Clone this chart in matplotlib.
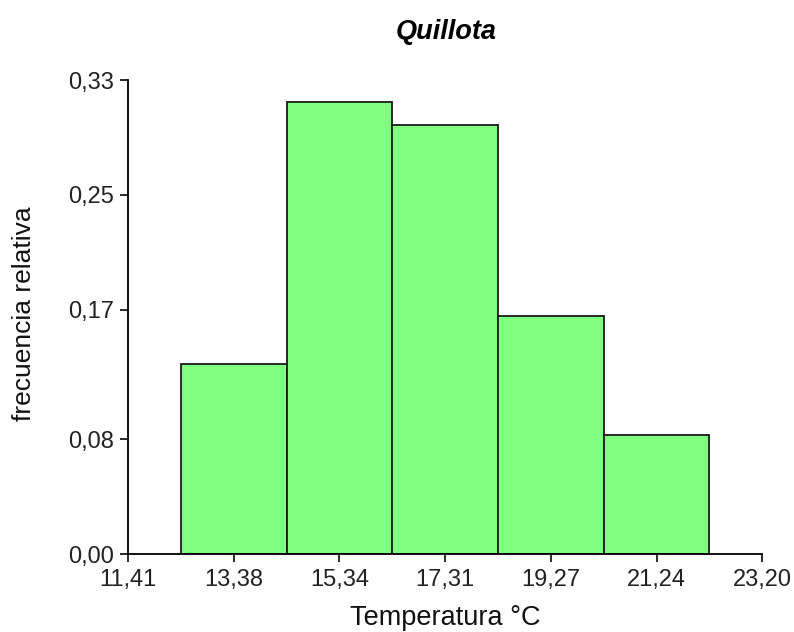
import matplotlib
matplotlib.use("Agg")
import matplotlib.pyplot as plt

plt.rcParams['font.family'] = ['Liberation Sans', 'DejaVu Sans']

# class midpoints and relative frequencies
centers = [13.38, 15.34, 17.31, 19.27, 21.24]
freq = [0.132, 0.315, 0.299, 0.166, 0.083]
bin_width = 1.965

xticks = [11.41, 13.38, 15.34, 17.31, 19.27, 21.24, 23.20]
yticks = [0.00, 0.08, 0.17, 0.25, 0.33]

fig = plt.figure(figsize=(7.94, 6.32), dpi=100)
ax = fig.add_axes([128/794, 78/632, 634/794, 474/632])

ax.bar(centers, freq, width=bin_width, color='#80FF80', edgecolor='#1a1a1a',
       linewidth=1.3)

ax.set_xlim(11.41, 23.20)
ax.set_ylim(0, 0.33)
ax.set_xticks(xticks)
ax.set_xticklabels([f"{v:.2f}".replace('.', ',') for v in xticks])
ax.set_yticks(yticks)
ax.set_yticklabels([f"{v:.2f}".replace('.', ',') for v in yticks])

for s in ['top', 'right']:
    ax.spines[s].set_visible(False)
for s in ['left', 'bottom']:
    ax.spines[s].set_linewidth(1.3)
ax.tick_params(labelsize=17, width=1.3, length=6, color='#1a1a1a', labelcolor='#222222')
ax.tick_params(axis='y', pad=4)
ax.tick_params(axis='x', pad=5)

fig.text(445/794, 1 - 618/632, "Temperatura °C", fontsize=19.5,
         ha='center', va='center', color='#111111')
fig.text(24/794, 1 - 314/632, "frecuencia relativa", fontsize=19,
         rotation=90, ha='center', va='center', color='#111111')
fig.text(446/794, 1 - 32/632, "Quillota", fontsize=19.5, fontweight='bold',
         fontstyle='italic', ha='center', va='center')

fig.savefig("out.png", dpi=100)
